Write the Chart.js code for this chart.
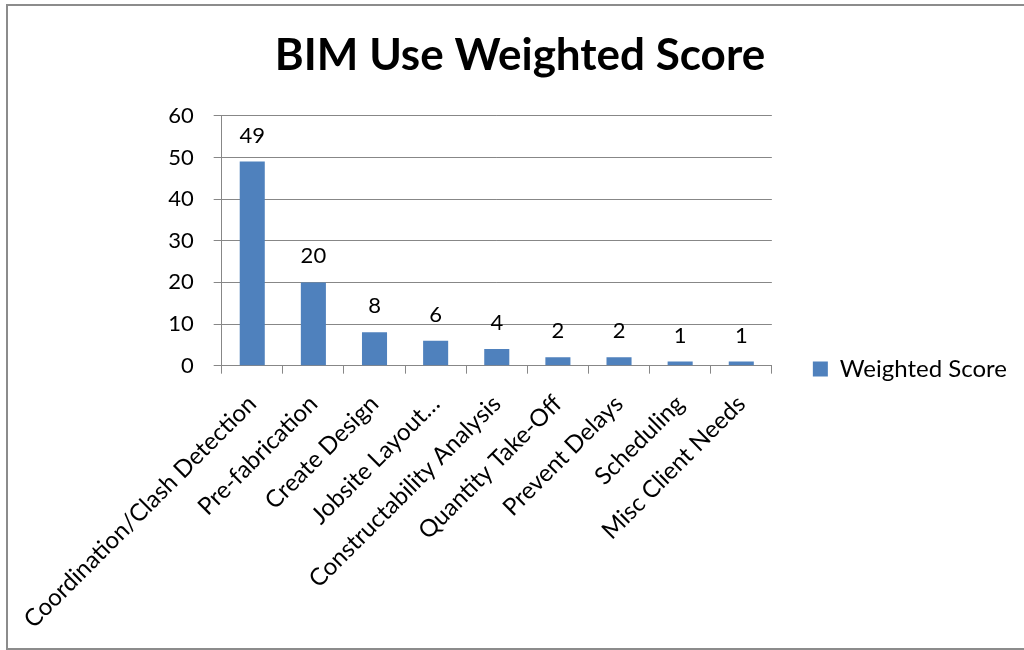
<!DOCTYPE html>
<html>
<head>
<meta charset="utf-8">
<script src="https://cdn.jsdelivr.net/npm/chart.js@4/dist/chart.umd.min.js"></script>
<style>
  html, body { margin: 0; padding: 0; background: #ffffff; }
  #wrap { position: relative; width: 1024px; height: 650px; overflow: hidden; }
  #frame {
    position: absolute; left: 6px; top: 4px; width: 1040px; height: 642px;
    border: 2px solid #8c8c8c; box-sizing: content-box; pointer-events: none;
  }
  canvas { position: absolute; left: 0; top: 0; }
</style>
</head>
<body>
<div id="wrap">
  <canvas id="chart" width="1024" height="650"></canvas>
  <div id="frame"></div>
</div>
<script>
// BIM uses and their weighted scores
const categories = [
  'Coordination/Clash Detection',
  'Pre-fabrication',
  'Create Design',
  'Jobsite Layout…',
  'Constructability Analysis',
  'Quantity Take-Off',
  'Prevent Delays',
  'Scheduling',
  'Misc Client Needs'
];
const weightedScore = [49, 20, 8, 6, 4, 2, 2, 1, 1];
const yTicks = [0, 10, 20, 30, 40, 50, 60];

const FONT = 'Lato, "Open Sans", sans-serif';
const GRID = '#878787';
const BAR = '#4F81BD';
const NUM_SIZE = 22;
const TEXT_SIZE = 24;

// Writes each bar's value just above it
const valueLabels = {
  id: 'valueLabels',
  afterDatasetsDraw(chart) {
    const ctx = chart.ctx;
    const meta = chart.getDatasetMeta(0);
    const data = chart.data.datasets[0].data;
    ctx.save();
    ctx.font = NUM_SIZE + 'px ' + FONT;
    ctx.fillStyle = '#000000';
    ctx.textAlign = 'center';
    ctx.textBaseline = 'alphabetic';
    meta.data.forEach((bar, i) => {
      ctx.fillText(String(data[i]), bar.x, bar.y - 19);
    });
    ctx.restore();
  }
};

// Centres the side legend on the block below the title (plot plus category labels)
const legendBand = {
  id: 'legendBand',
  afterLayout(chart) {
    const lg = chart.legend;
    if (!lg) return;
    lg.top = chart.titleBlock.bottom - 28;
    lg.bottom = chart.scales.x.bottom;
    lg.height = lg.bottom - lg.top;
  }
};

new Chart(document.getElementById('chart'), {
  type: 'bar',
  data: {
    labels: categories,
    datasets: [{
      label: 'Weighted Score',
      data: weightedScore,
      backgroundColor: BAR,
      borderWidth: 0,
      barPercentage: 0.41,
      categoryPercentage: 1.0
    }]
  },
  options: {
    responsive: false,
    animation: false,
    layout: { padding: { left: 23, right: 7, top: 0, bottom: 0 } },
    plugins: {
      title: {
        display: true,
        text: 'BIM Use Weighted Score',
        color: '#000000',
        font: { family: FONT, size: 44, weight: 'bold' },
        padding: { top: 29, bottom: 34 }
      },
      legend: {
        display: true,
        position: 'right',
        labels: {
          color: '#000000',
          font: { family: FONT, size: TEXT_SIZE },
          boxWidth: 15,
          boxHeight: 15,
          padding: 41
        }
      },
      tooltip: { enabled: false }
    },
    scales: {
      x: {
        grid: {
          display: true,
          drawOnChartArea: false,
          drawTicks: true,
          tickLength: 8,
          color: GRID,
          offset: true
        },
        border: { display: true, color: GRID, width: 1 },
        ticks: {
          color: '#000000',
          font: { family: FONT, size: TEXT_SIZE },
          minRotation: 45,
          maxRotation: 45,
          autoSkip: false,
          padding: 16
        }
      },
      y: {
        min: 0,
        max: 60,
        afterBuildTicks(axis) {
          axis.ticks = yTicks.map(v => ({ value: v }));
        },
        afterFit(axis) {
          axis.width = 198;
        },
        grid: {
          display: true,
          drawOnChartArea: true,
          drawTicks: true,
          tickLength: 8,
          color: GRID
        },
        border: { display: true, color: GRID, width: 1 },
        ticks: {
          color: '#000000',
          font: { family: FONT, size: NUM_SIZE },
          padding: 20
        }
      }
    }
  },
  plugins: [valueLabels, legendBand]
});
</script>
</body>
</html>
